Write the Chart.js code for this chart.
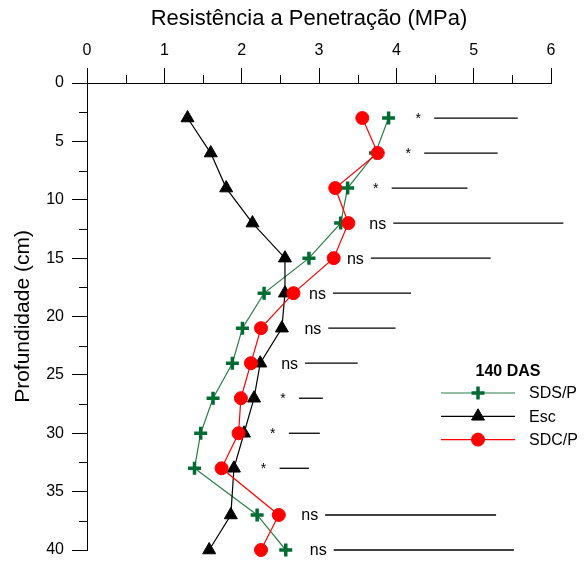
<!DOCTYPE html>
<html>
<head>
<meta charset="utf-8">
<script src="https://cdn.jsdelivr.net/npm/chart.js@4"></script>
<style>body{margin:0;background:#fff}</style>
</head>
<body>
<canvas id="c" width="586" height="561"></canvas>
<script>
// profundidade (cm) e resistência (MPa) - 140 DAS
const depths = [3, 6, 9, 12, 15, 18, 21, 24, 27, 30, 33, 37, 40];
const sdsp   = [3.90, 3.73, 3.37, 3.28, 2.87, 2.29, 2.01, 1.88, 1.63, 1.47, 1.39, 2.20, 2.57];
const esc    = [1.30, 1.60, 1.80, 2.14, 2.56, 2.56, 2.52, 2.24, 2.16, 2.03, 1.90, 1.86, 1.58];
const sdcp   = [3.56, 3.76, 3.21, 3.38, 3.19, 2.67, 2.25, 2.12, 1.99, 1.96, 1.74, 2.48, 2.25];

// barras de DMS e significancia
const lsdStart  = [4.49, 4.36, 3.94, 3.96, 3.67, 3.18, 3.12, 2.82, 2.74, 2.61, 2.49, 3.08, 3.19];
const lsdEnd    = [5.57, 5.31, 4.92, 6.16, 5.22, 4.19, 3.99, 3.50, 3.05, 3.01, 2.87, 5.29, 5.52];
const lsdLabels = ['*', '*', '*', 'ns', 'ns', 'ns', 'ns', 'ns', '*', '*', '*', 'ns', 'ns'];

const xMinor = [0.5, 1.5, 2.5, 3.5, 4.5, 5.5];
const yMinor = [2.5, 7.5, 12.5, 17.5, 22.5, 27.5, 32.5, 37.5];

const X_TITLE = 'Resistência a Penetração (MPa)';
const Y_TITLE = 'Profundidade (cm)';

const FONT = "'Liberation Sans', Arial, sans-serif";
const GREEN_LINE = '#2a7f4a';
const GREEN_MARK = '#006b33';

const toPts = vals => vals.map((v, i) => ({ x: v, y: depths[i] }));

const series = [
  { label: 'SDS/P', data: toPts(sdsp), borderColor: GREEN_LINE, backgroundColor: GREEN_MARK,
    pointBorderColor: GREEN_MARK, pointStyle: 'cross', pointRadius: 6.5, pointBorderWidth: 3.5, order: 3 },
  { label: 'Esc', data: toPts(esc), borderColor: '#000', backgroundColor: '#000',
    pointBorderColor: '#000', pointStyle: 'triangle', pointRadius: 7.5, pointBorderWidth: 1, order: 2 },
  { label: 'SDC/P', data: toPts(sdcp), borderColor: '#ff0000', backgroundColor: '#ff0000',
    pointBorderColor: '#ff0000', pointStyle: 'circle', pointRadius: 6.5, pointBorderWidth: 1, order: 1 }
];

const datasets = series.map(s => Object.assign({ showLine: true, borderWidth: 1.2, clip: false }, s));

lsdStart.forEach((s, i) => {
  datasets.push({
    label: 'lsd' + i,
    data: [{ x: s, y: depths[i] }, { x: lsdEnd[i], y: depths[i] }],
    showLine: true, borderColor: '#000', borderWidth: 1.3, pointRadius: 0, clip: false, order: 4
  });
});

const extras = {
  id: 'extras',
  afterDraw(chart) {
    const ctx = chart.ctx, x = chart.scales.x, y = chart.scales.y;
    const top = chart.chartArea.top, left = chart.chartArea.left;
    ctx.save();
    ctx.strokeStyle = '#000';
    ctx.lineWidth = 1;
    xMinor.forEach(v => {
      const px = Math.round(x.getPixelForValue(v)) + 0.5;
      ctx.beginPath(); ctx.moveTo(px, top); ctx.lineTo(px, top - 8); ctx.stroke();
    });
    yMinor.forEach(v => {
      const py = Math.round(y.getPixelForValue(v)) + 0.5;
      ctx.beginPath(); ctx.moveTo(left, py); ctx.lineTo(left - 8, py); ctx.stroke();
    });

    // titulo do eixo x (um pouco à esquerda do centro, como no original)
    ctx.fillStyle = '#000';
    ctx.font = '22px ' + FONT;
    ctx.textAlign = 'center';
    ctx.textBaseline = 'middle';
    ctx.fillText(X_TITLE, 309, 19);

    // rótulos de significancia
    lsdLabels.forEach((t, i) => {
      const px = x.getPixelForValue(lsdStart[i]);
      const py = y.getPixelForValue(depths[i]);
      if (t === '*') {
        ctx.font = '14px ' + FONT;
        ctx.textAlign = 'center';
        ctx.fillText(t, px - 16, py + 1);
      } else {
        ctx.font = '16px ' + FONT;
        ctx.textAlign = 'right';
        ctx.fillText(t, px - 7, py + 1);
      }
    });

    // legenda
    ctx.font = 'bold 16px ' + FONT;
    ctx.textAlign = 'center';
    ctx.fillText('140 DAS', 508, 372);
    series.forEach((s, i) => {
      const ly = 393 + i * 23.3;
      ctx.strokeStyle = s.borderColor;
      ctx.lineWidth = 1.2;
      ctx.beginPath(); ctx.moveTo(441, ly); ctx.lineTo(515, ly); ctx.stroke();
      ctx.fillStyle = s.backgroundColor;
      ctx.strokeStyle = s.pointBorderColor;
      ctx.lineWidth = s.pointBorderWidth;
      Chart.helpers.drawPoint(ctx, { pointStyle: s.pointStyle, radius: s.pointRadius, borderWidth: s.pointBorderWidth, rotation: 0 }, 478, ly);
      ctx.fillStyle = '#000';
      ctx.font = '16px ' + FONT;
      ctx.textAlign = 'left';
      ctx.fillText(s.label, 529, ly + 1);
    });
    ctx.restore();
  }
};

new Chart(document.getElementById('c'), {
  type: 'scatter',
  data: { datasets: datasets },
  options: {
    responsive: false,
    animation: false,
    layout: { padding: { left: 0, right: 35, top: 0, bottom: 11 } },
    plugins: { legend: { display: false }, tooltip: { enabled: false } },
    scales: {
      x: {
        type: 'linear', position: 'top', min: 0, max: 6,
        ticks: { stepSize: 1, color: '#000', padding: 8, font: { family: FONT, size: 16 } },
        grid: { drawOnChartArea: false, tickLength: 15, color: '#000' },
        border: { color: '#000' },
        afterFit(scale) { scale.height = 83; }
      },
      y: {
        type: 'linear', reverse: true, min: 0, max: 40,
        ticks: { stepSize: 5, color: '#000', padding: 8, font: { family: FONT, size: 16 } },
        grid: { drawOnChartArea: false, tickLength: 15, color: '#000' },
        border: { color: '#000' },
        title: { display: true, text: Y_TITLE, color: '#000',
                 font: { family: FONT, size: 21 }, padding: { top: 11, bottom: 0 } },
        afterFit(scale) {
          scale.width = 87;
          scale.paddingTop = 0;
          scale.paddingBottom = 0;
        }
      }
    }
  },
  plugins: [extras]
});
</script>
</body>
</html>
